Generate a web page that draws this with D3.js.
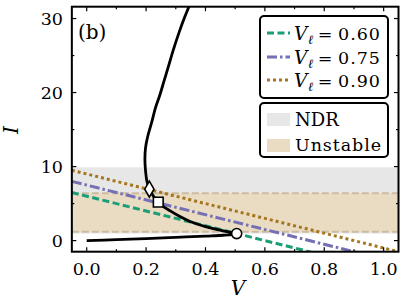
<!DOCTYPE html>
<html><head><meta charset="utf-8">
<script src="https://cdn.jsdelivr.net/npm/d3@7"></script>
<style>body{margin:0;background:#fff}svg{display:block}</style>
</head><body>
<svg id="c" width="408" height="305" font-family="'DejaVu Serif', serif"></svg>
<script>
// ---- data ----
const curveV = [0, 0.10, 0.20, 0.30, 0.40, 0.46, 0.49, 0.505, 0.49, 0.46, 0.40, 0.35, 0.314, 0.28, 0.255, 0.241, 0.225, 0.211, 0.203, 0.198, 0.196, 0.198, 0.205, 0.219, 0.232, 0.245, 0.260, 0.275, 0.292, 0.310, 0.330, 0.344, 0.360];
const curveI = [0, 0.13, 0.28, 0.44, 0.61, 0.72, 0.82, 0.95, 1.10, 1.32, 1.90, 2.55, 3.25, 4.05, 4.70, 5.19, 6.00, 6.95, 8.00, 9.50, 11.0, 12.5, 14.0, 16.0, 18.0, 19.5, 21.5, 23.5, 25.8, 28.0, 30.2, 31.6, 33.5];
const loadV = [-0.05, 1.05];
const loadLabels = ["0.60", "0.75", "0.90"];
const loadGreen = [6.5, -4.5];
const loadPurple = [8.0, -3.0];
const loadOrange = [9.5, -1.5];
const markerV = [0.505, 0.241, 0.211];
const markerI = [0.95, 5.19, 6.95];
const markerShape = ["circle", "square", "diamond"];
const ndrBand = [0.95, 9.9];
const unstableBand = [1.2, 6.4];
const xTicks = [0, 0.2, 0.4, 0.6, 0.8, 1.0];
const xTickLabels = ["0.0", "0.2", "0.4", "0.6", "0.8", "1.0"];
const xMinor = [0.1, 0.3, 0.5, 0.7, 0.9];
const yTicks = [0, 10, 20, 30];
const yMinor = [5, 15, 25];

// ---- layout ----
const svg = d3.select("#c");
const L = 71.85, R = 398.5, T = 6.7, B = 251.7;
const x = d3.scaleLinear().domain([-0.05, 1.05]).range([L, R]);
const y = d3.scaleLinear().domain([-1.5, 31.6]).range([B, T]);
const FS = 17.5;

svg.append("defs").append("clipPath").attr("id", "clip")
  .append("rect").attr("x", L).attr("y", T).attr("width", R - L).attr("height", B - T);
const plot = svg.append("g").attr("clip-path", "url(#clip)");

// bands
plot.append("rect").attr("x", L).attr("width", R - L)
  .attr("y", y(ndrBand[1])).attr("height", y(ndrBand[0]) - y(ndrBand[1])).attr("fill", "#e7e7e7");
plot.append("rect").attr("x", L).attr("width", R - L)
  .attr("y", y(unstableBand[1])).attr("height", y(unstableBand[0]) - y(unstableBand[1])).attr("fill", "#e9dcc3");
unstableBand.forEach(v => {
  plot.append("line").attr("x1", L).attr("x2", R).attr("y1", y(v)).attr("y2", y(v))
    .attr("stroke", "#cdbca2").attr("stroke-width", 2).attr("stroke-dasharray", "7,3");
});

// load lines
const loads = [
  {I: loadGreen, color: "#1b9e77", dash: "7,3.5"},
  {I: loadPurple, color: "#7570b3", dash: "10,3,2.5,3"},
  {I: loadOrange, color: "#a6761d", dash: "3,3"}
];
const lineGen = d3.line().x(d => x(d[0])).y(d => y(d[1]));
loads.forEach(s => {
  plot.append("path").datum(loadV.map((v, i) => [v, s.I[i]]))
    .attr("d", lineGen).attr("fill", "none").attr("stroke", s.color)
    .attr("stroke-width", 3).attr("stroke-dasharray", s.dash);
});

// black curve
plot.append("path").datum(curveV.map((v, i) => [v, curveI[i]]))
  .attr("d", d3.line().x(d => x(d[0])).y(d => y(d[1])).curve(d3.curveCatmullRom.alpha(0.5)))
  .attr("fill", "none").attr("stroke", "#000").attr("stroke-width", 2.8).attr("stroke-linejoin", "round");

// markers
const symMap = {circle: d3.symbolCircle, square: d3.symbolSquare, diamond: d3.symbolDiamond};
const symSize = {circle: 80, square: 95, diamond: 75};
markerV.forEach((v, i) => {
  const s = markerShape[i];
  svg.append("path").attr("d", d3.symbol().type(symMap[s]).size(symSize[s])())
    .attr("transform", `translate(${x(v)},${y(markerI[i])})`)
    .attr("fill", "#fff").attr("stroke", "#000").attr("stroke-width", 1.6);
});

// ticks (inward, all sides)
const tk = svg.append("g").attr("stroke", "#000").attr("stroke-width", 1.2);
xTicks.forEach(v => {
  tk.append("line").attr("x1", x(v)).attr("x2", x(v)).attr("y1", B).attr("y2", B - 4.5);
  tk.append("line").attr("x1", x(v)).attr("x2", x(v)).attr("y1", T).attr("y2", T + 4.5);
});
xMinor.forEach(v => {
  tk.append("line").attr("x1", x(v)).attr("x2", x(v)).attr("y1", B).attr("y2", B - 2.5);
  tk.append("line").attr("x1", x(v)).attr("x2", x(v)).attr("y1", T).attr("y2", T + 2.5);
});
yTicks.forEach(v => {
  tk.append("line").attr("y1", y(v)).attr("y2", y(v)).attr("x1", L).attr("x2", L + 4.5);
  tk.append("line").attr("y1", y(v)).attr("y2", y(v)).attr("x1", R).attr("x2", R - 4.5);
});
yMinor.forEach(v => {
  tk.append("line").attr("y1", y(v)).attr("y2", y(v)).attr("x1", L).attr("x2", L + 2.5);
  tk.append("line").attr("y1", y(v)).attr("y2", y(v)).attr("x1", R).attr("x2", R - 2.5);
});

// frame
svg.append("rect").attr("x", L).attr("y", T).attr("width", R - L).attr("height", B - T)
  .attr("fill", "none").attr("stroke", "#000").attr("stroke-width", 2);

// tick labels
xTicks.forEach((v, i) => {
  svg.append("text").attr("x", x(v)).attr("y", 274.5).attr("text-anchor", "middle")
    .attr("font-size", FS).text(xTickLabels[i]);
});
yTicks.forEach(v => {
  svg.append("text").attr("x", 63).attr("y", y(v) + 6.3).attr("text-anchor", "end")
    .attr("font-size", FS).text(String(v));
});

// axis labels
svg.append("text").attr("x", 238).attr("y", 295).attr("text-anchor", "middle")
  .attr("font-size", 20).attr("font-style", "italic").text("V");
svg.append("text").attr("transform", "translate(18,130) rotate(-90)").attr("text-anchor", "middle")
  .attr("font-size", 20).attr("font-style", "italic").text("I");

// panel label
svg.append("text").attr("x", 78).attr("y", 39).attr("font-size", 20).text("(b)");

// legend 1
svg.append("rect").attr("x", 260).attr("y", 16).attr("width", 128).attr("height", 82)
  .attr("rx", 4).attr("fill", "#fff").attr("stroke", "#000").attr("stroke-width", 2);
const legY = [33, 57, 80];
loads.forEach((s, i) => {
  svg.append("line").attr("x1", 267).attr("x2", 290).attr("y1", legY[i]).attr("y2", legY[i])
    .attr("stroke", s.color).attr("stroke-width", 3).attr("stroke-dasharray", s.dash);
  const g = svg.append("g");
  g.append("text").attr("x", 294).attr("y", legY[i] + 6.5).attr("font-size", 18.5).attr("font-style", "italic").text("V");
  g.append("text").attr("x", 308).attr("y", legY[i] + 10.5).attr("font-size", 12.5).attr("font-style", "italic").text("ℓ");
  g.append("text").attr("x", 325).attr("y", legY[i] + 6.5).attr("font-size", FS).attr("text-anchor", "middle").text("=");
  g.append("text").attr("x", 338).attr("y", legY[i] + 6.5).attr("font-size", FS).attr("textLength", 42).text(loadLabels[i]);
});

// legend 2
svg.append("rect").attr("x", 260).attr("y", 103).attr("width", 128).attr("height", 54)
  .attr("rx", 4).attr("fill", "#fff").attr("stroke", "#000").attr("stroke-width", 2);
svg.append("rect").attr("x", 267).attr("y", 113).attr("width", 23).attr("height", 13).attr("fill", "#e7e7e7");
svg.append("rect").attr("x", 267).attr("y", 139).attr("width", 23).attr("height", 13).attr("fill", "#e9dcc3");
svg.append("text").attr("x", 295).attr("y", 126).attr("font-size", 18).text("NDR");
svg.append("text").attr("x", 295).attr("y", 151).attr("font-size", FS).attr("textLength", 86).text("Unstable");
</script>
</body></html>
